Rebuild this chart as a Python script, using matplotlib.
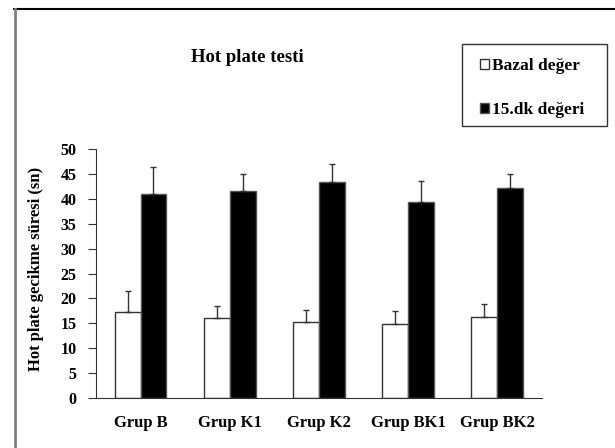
import numpy as np
from matplotlib import pyplot as plt
from matplotlib.lines import Line2D
from matplotlib.patches import Rectangle

plt.rcParams['font.family'] = 'Liberation Serif'
plt.rcParams['font.weight'] = 'bold'
plt.rcParams['axes.labelweight'] = 'bold'

groups = ['Grup B', 'Grup K1', 'Grup K2', 'Grup BK1', 'Grup BK2']
bazal = [17.2, 16.1, 15.2, 14.8, 16.3]
bazal_err = [4.2, 2.4, 2.4, 2.6, 2.5]
dk15 = [40.9, 41.5, 43.3, 39.3, 42.2]
dk15_err = [5.4, 3.5, 3.7, 4.3, 2.8]

fig = plt.figure(figsize=(6.15, 4.48), dpi=100)
ax = fig.add_axes([0.156, 0.1116, 0.725, 0.5558])

x = np.arange(len(groups))
w = 0.29
err_kw = dict(ecolor='#333333', elinewidth=1, capsize=2.5, capthick=1)
b1 = ax.bar(x - w/2, bazal, w, color='white', edgecolor='#333333', linewidth=1,
            yerr=[np.zeros(len(x)), bazal_err], error_kw=err_kw, label='Bazal değer')
b2 = ax.bar(x + w/2, dk15, w, color='black', edgecolor='#555555', linewidth=1,
            yerr=[np.zeros(len(x)), dk15_err], error_kw=err_kw, label='15.dk değeri')

ax.set_xlim(-0.5, 4.5)
ax.set_ylim(0, 50)
ax.set_yticks(range(0, 51, 5))
ax.set_xticks(x)
ax.set_xticklabels(groups, fontsize=12)
ax.tick_params(axis='x', length=0, pad=12)
ax.tick_params(axis='y', length=6, color='#333333', labelsize=11.5, pad=8)
for s in ['top', 'right']:
    ax.spines[s].set_visible(False)
for s in ['left', 'bottom']:
    ax.spines[s].set_color('#333333')
ax.set_ylabel('Hot plate gecikme süresi (sn)', fontsize=12)
ax.yaxis.set_label_coords(-0.117, 0.52)

fig.text(247/615, 1 - 57/448, 'Hot plate testi', fontsize=13.5, ha='center', va='center')

# legend box drawn separately, entries placed inside it
fig.add_artist(Rectangle((462/615, 1 - 126/448), 145/615, 82/448, transform=fig.transFigure,
                         fill=False, edgecolor='#333333', linewidth=1))
leg = fig.legend(handles=[b1, b2], loc='center left', bbox_to_anchor=(480/615, 1 - 88/448),
                 fontsize=12.5, frameon=False,
                 handlelength=0.5, handleheight=0.5, handletextpad=0.2,
                 labelspacing=1.6, borderpad=0, borderaxespad=0)

# outer frame of the picture
fig.add_artist(Line2D([14/615, 1], [1 - 9.5/448, 1 - 9.5/448], color='black', lw=1.5))
fig.add_artist(Line2D([14.5/615, 14.5/615], [0, 1 - 9.5/448], color='#808080', lw=2))

plt.savefig('out.png', dpi=100)
